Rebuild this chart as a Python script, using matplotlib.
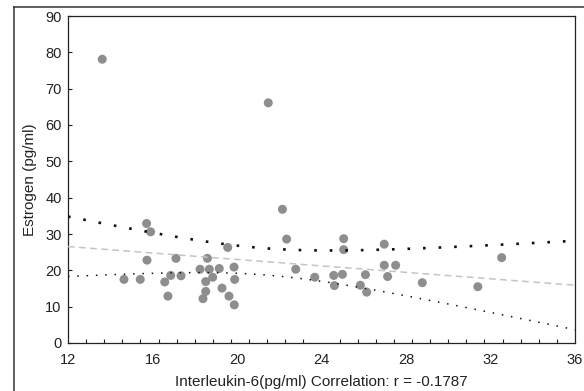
import numpy as np
import matplotlib
matplotlib.use("Agg")
import matplotlib.pyplot as plt
from matplotlib.lines import Line2D

# Interleukin-6 (pg/ml) vs Estrogen (pg/ml)
il6 = [13.62, 21.48, 22.15, 15.72, 15.91, 22.35, 19.56, 15.74, 17.11, 18.60,
       19.86, 18.25, 18.69, 19.16, 22.78, 16.86, 17.35, 18.85, 14.65, 15.42,
       16.58, 18.52, 19.89, 18.52, 19.29, 16.73, 18.39, 19.62, 19.87, 25.05,
       25.05, 26.97, 26.97, 27.51, 23.68, 24.58, 24.99, 26.08, 27.13, 24.61,
       25.84, 26.14, 28.77, 32.53, 31.40]
estrogen = [78.1, 66.1, 36.8, 32.9, 30.6, 28.6, 26.3, 22.8, 23.3, 23.3,
            20.9, 20.3, 20.3, 20.5, 20.3, 18.6, 18.5, 18.1, 17.5, 17.5,
            16.8, 16.9, 17.5, 14.2, 15.1, 12.9, 12.2, 12.9, 10.5, 28.7,
            25.7, 27.2, 21.4, 21.4, 18.1, 18.6, 18.9, 18.8, 18.3, 15.8,
            15.9, 14.0, 16.6, 23.5, 15.5]

x_ticks = [12, 16, 20, 24, 28, 32, 36]
y_ticks = [0, 10, 20, 30, 40, 50, 60, 70, 80, 90]
x_label = "Interleukin-6(pg/ml) Correlation: r = -0.1787"
y_label = "Estrogen (pg/ml)"

T_95 = 2.0167  # t quantile, 43 degrees of freedom

plt.rcParams["font.family"] = ["Liberation Sans", "DejaVu Sans"]
plt.rcParams["lines.scale_dashes"] = False

x = np.array(il6)
y = np.array(estrogen)
n = len(x)
slope, intercept = np.polyfit(x, y, 1)
resid = y - (slope * x + intercept)
s = np.sqrt(np.sum(resid ** 2) / (n - 2))
sxx = np.sum((x - x.mean()) ** 2)

xs = np.linspace(12, 36, 300)
fit = slope * xs + intercept
half = T_95 * s * np.sqrt(1.0 / n + (xs - x.mean()) ** 2 / sxx)

W, H = 584, 391
fig = plt.figure(figsize=(W / 100, H / 100), dpi=100)
ax = fig.add_axes([68 / W, 1 - 343 / H, (575 - 68) / W, (343 - 16) / H])

ax.scatter(x, y, s=42, color="#8e8e8e", edgecolors="none", zorder=2)
ax.plot(xs, fit, color="#c4c4c4", lw=1.1, ls=(0, (4.8, 3.2)), zorder=3)
ax.plot(xs, fit + half, color="#111111", lw=1.9, ls=(0, (1.9, 9.3)),
        dash_capstyle="butt", zorder=3)
ax.plot(xs, fit - half, color="#111111", lw=1.1, ls=(0, (1.1, 5.6)),
        dash_capstyle="butt", zorder=3)

ax.set_xlim(12, 36)
ax.set_ylim(0, 90)
ax.set_xticks(x_ticks)
ax.set_xticks(np.linspace(12, 36, 29), minor=True)
ax.set_yticks(y_ticks)
ax.tick_params(axis="x", which="major", length=0, pad=7, labelsize=10.5,
               colors="#222222")
ax.tick_params(axis="x", which="minor", direction="in", length=3, width=0.8,
               color="#222222")
ax.tick_params(axis="y", which="major", direction="in", length=3, width=0.8,
               pad=4.5, labelsize=10.5, colors="#222222")
for sp in ax.spines.values():
    sp.set_color("#222222")
    sp.set_linewidth(0.9)

ax.set_xlabel(x_label, fontsize=11, labelpad=6, color="#222222")
ax.set_ylabel(y_label, fontsize=11, labelpad=6, color="#222222")

# outer frame of the figure panel
fig.add_artist(Line2D([13.5 / W, 13.5 / W], [0, 1 - 7 / H],
                      transform=fig.transFigure, color="#333333", lw=1.1))
fig.add_artist(Line2D([13.5 / W, 1], [1 - 7 / H, 1 - 7 / H],
                      transform=fig.transFigure, color="#333333", lw=1.1))

fig.savefig("out.png", dpi=100)
